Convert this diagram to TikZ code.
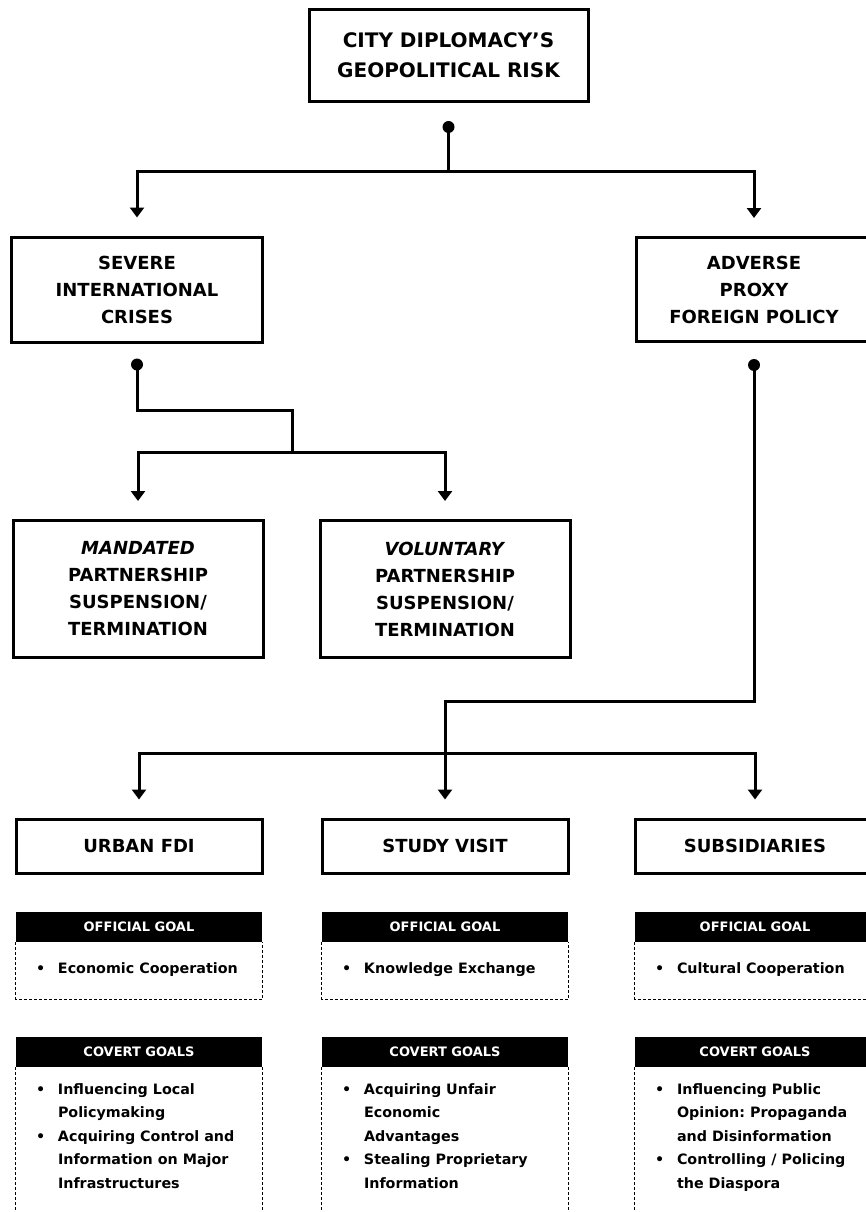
\documentclass[tikz,border=0pt]{standalone}
\usepackage{fontspec}
\setmainfont{DejaVu Sans}
\frenchspacing
\usetikzlibrary{arrows.meta}
\newcommand{\goallist}[1]{\begin{tabular}{@{}p{22pt}@{}l@{}}#1\end{tabular}}
\tikzset{
	box/.style={draw,line width=3pt,align=center,inner sep=0pt,font=\bfseries\fontsize{18}{27}\selectfont},
	link/.style={line width=3pt},
	head/.style={fill=black,text=white,inner sep=0pt,minimum height=30pt,font=\bfseries\fontsize{13}{16}\selectfont},
	goalbox/.style={line width=1.2pt,dash pattern=on 3pt off 2pt},
	goal/.style={anchor=north west,inner sep=0pt,font=\bfseries\fontsize{14.3}{23.5}\selectfont}
}
\begin{document}
\begin{tikzpicture}[x=1pt,y=-1pt,>={Triangle[length=10pt,width=14pt]},line join=miter]
	\clip (0,0) rectangle (866,1212);
	% các hộp chính
	\node[box,minimum width=279pt,minimum height=92pt,font=\bfseries\fontsize{20}{30}\selectfont] (risk) at (448.5,55.5) {CITY DIPLOMACY’S\\GEOPOLITICAL RISK};
	\node[box,minimum width=251pt,minimum height=105pt] (crises) at (137,289.5) {SEVERE\\INTERNATIONAL\\CRISES};
	\node[box,minimum width=236pt,minimum height=104pt] (proxy) at (754,289.5) {ADVERSE\\PROXY\\FOREIGN POLICY};
	\node[box,minimum width=250pt,minimum height=137pt] (mandated) at (138,589) {\textit{MANDATED}\\PARTNERSHIP\\SUSPENSION/\\TERMINATION};
	\node[box,minimum width=250pt,minimum height=137pt] (voluntary) at (445,589) {\textit{VOLUNTARY}\\PARTNERSHIP\\SUSPENSION/\\TERMINATION};
	\node[box,minimum width=246pt,minimum height=54pt] (fdi) at (139,846) {URBAN FDI};
	\node[box,minimum width=246pt,minimum height=54pt] (visit) at (445,846) {STUDY VISIT};
	\node[box,minimum width=240pt,minimum height=54pt] (subs) at (755,846) {SUBSIDIARIES};
	% đường nối
	\coordinate (riskdot) at ([yshift=-24pt]risk.south);
	\coordinate (split1) at ([yshift=-68pt]risk.south);
	\draw[link] (riskdot)--(split1);
	\foreach \x in {crises,proxy}{\draw[link,->] (split1) -| ([yshift=18pt]\x.north);}
	\coordinate (crisesdot) at ([yshift=-21pt]crises.south);
	\coordinate (split2) at ([yshift=67pt]voluntary.north -| 292,0);
	\draw[link] (crisesdot) -- ++(0,46) -| (split2);
	\foreach \x in {mandated,voluntary}{\draw[link,->] (split2) -| ([yshift=18pt]\x.north);}
	\coordinate (proxydot) at ([yshift=-22pt]proxy.south);
	\coordinate (split3) at ([yshift=64pt]visit.north);
	\draw[link] (proxydot) |- ([yshift=116pt]visit.north) -- (split3);
	\foreach \x in {fdi,visit,subs}{\draw[link,->] (split3) -| ([yshift=18pt]\x.north);}
	\foreach \x in {riskdot,crisesdot,proxydot}{\fill (\x) circle(6pt);}
	% mục tiêu
	\foreach \col/\w in {fdi/246,visit/246,subs/240}{
		\node[head,minimum width=\w pt] (\col-off) at (\col |- 0,927) {OFFICIAL GOAL};
		\draw[goalbox] (\col-off.south west) -- ++(0,57) -| (\col-off.south east);
		\node[head,minimum width=\w pt] (\col-cov) at (\col |- 0,1052) {COVERT GOALS};
		\draw[goalbox] (\col-cov.south west) -- ++(0,180) (\col-cov.south east) -- ++(0,180);
	}
	\node[goal] (fdi-offtxt) at ([xshift=20pt,yshift=-15pt]fdi-off.south west) {\goallist{\textbullet & Economic Cooperation}};
	\node[goal] (visit-offtxt) at ([xshift=20pt,yshift=-15pt]visit-off.south west) {\goallist{\textbullet & Knowledge Exchange}};
	\node[goal] (subs-offtxt) at ([xshift=20pt,yshift=-15pt]subs-off.south west) {\goallist{\textbullet & Cultural Cooperation}};
	\node[goal] (fdi-covtxt) at ([xshift=20pt,yshift=-10.5pt]fdi-cov.south west) {\goallist{\textbullet & Influencing Local\\ & Policymaking\\ \textbullet & Acquiring Control and\\ & Information on Major\\ & Infrastructures}};
	\node[goal] (visit-covtxt) at ([xshift=20pt,yshift=-10.5pt]visit-cov.south west) {\goallist{\textbullet & Acquiring Unfair\\ & Economic\\ & Advantages\\ \textbullet & Stealing Proprietary\\ & Information}};
	\node[goal] (subs-covtxt) at ([xshift=20pt,yshift=-10.5pt]subs-cov.south west) {\goallist{\textbullet & Influencing Public\\ & Opinion: Propaganda\\ & and Disinformation\\ \textbullet & Controlling / Policing\\ & the Diaspora}};
\end{tikzpicture}
\end{document}
